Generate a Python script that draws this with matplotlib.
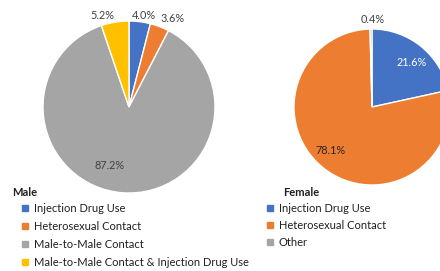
import matplotlib
matplotlib.use("Agg")
import matplotlib.pyplot as plt
import numpy as np
from matplotlib.lines import Line2D

plt.rcParams['font.family'] = ['Lato', 'DejaVu Sans']

# data
male_labels = ["Injection Drug Use", "Heterosexual Contact", "Male-to-Male Contact",
               "Male-to-Male Contact & Injection Drug Use"]
male_pct = [4.0, 3.6, 87.2, 5.2]
female_labels = ["Injection Drug Use", "Heterosexual Contact", "Other"]
female_pct = [21.6, 78.1, 0.4]

blue, orange, gray, yellow = "#4472C4", "#ED7D31", "#A5A5A5", "#FFC000"
male_colors = [blue, orange, gray, yellow]
female_colors = [blue, orange, gray]

W, H = 440, 271
fig = plt.figure(figsize=(W / 100, H / 100), dpi=100)


def px_axes(cx, cy, r):
    return fig.add_axes([(cx - r) / W, (H - cy - r) / H, 2 * r / W, 2 * r / H])


def draw_pie(ax, vals, colors, label_pos, label_colors):
    wedges, _ = ax.pie(vals, colors=colors, startangle=90, counterclock=False,
                       radius=1, wedgeprops=dict(edgecolor="white", linewidth=1))
    for w, v, (rf, da), tc in zip(wedges, vals, label_pos, label_colors):
        ang = np.deg2rad((w.theta1 + w.theta2) / 2 + da)
        ax.text(rf * np.cos(ang), rf * np.sin(ang), f"{v:.1f}%", ha="center",
                va="center", fontsize=7.8, color=tc)
    ax.set_xlim(-1, 1)
    ax.set_ylim(-1, 1)
    ax.set_aspect("equal")
    ax.axis("off")


ax1 = px_axes(129, 107, 86)
draw_pie(ax1, male_pct, male_colors,
         [(1.08, -2), (1.15, -5), (0.72, -14), (1.11, 7)],
         ["#404040"] * 4)
ax1.patch.set_alpha(0)

ax2 = px_axes(372, 107, 78)
draw_pie(ax2, female_pct, female_colors,
         [(0.76, -3), (0.77, -6), (1.12, -1)],
         ["white", "#262626", "#404040"])

for ax in (ax1, ax2):
    for c in ax.get_children():
        c.set_clip_on(False)


def legend(labels, colors, x, y, title, tx, spacing):
    fig.text(tx / W, 1 - y / H, title, fontsize=8, fontweight="bold",
             va="center", ha="left", color="#202020")
    handles = [Line2D([], [], marker="s", linestyle="none", markersize=4.5,
                      color=c) for c in colors]
    fig.legend(handles, labels, loc="upper left",
               bbox_to_anchor=(x / W, 1 - (y + 10) / H), frameon=False,
               fontsize=8, handlelength=0.6, handletextpad=0.45,
               labelspacing=spacing, borderpad=0, borderaxespad=0,
               labelcolor="#202020")


legend(male_labels, male_colors, 22, 193, "Male", 12, 0.62)
legend(female_labels, female_colors, 267, 193, "Female", 283, 0.55)

fig.savefig("out.png", dpi=100)
